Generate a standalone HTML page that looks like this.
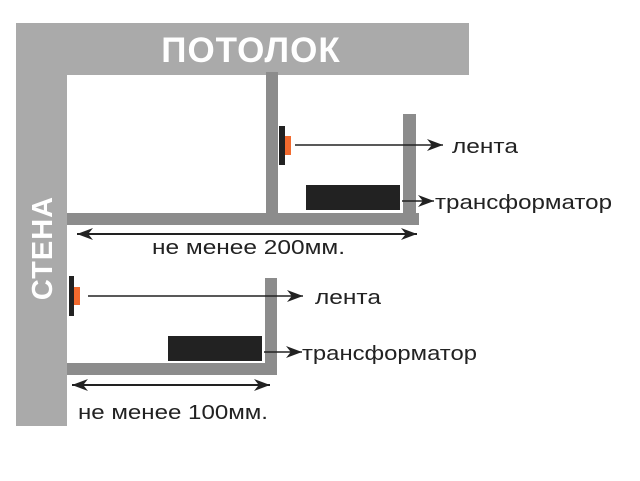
<!DOCTYPE html>
<html><head><meta charset="utf-8"><style>
body{margin:0;background:#fff;}
</style></head><body>
<svg width="640" height="476" viewBox="0 0 640 476" xmlns="http://www.w3.org/2000/svg" font-family="Liberation Sans, sans-serif">
<defs>
<marker id="a" viewBox="0 0 10 10" refX="10" refY="5" markerWidth="16" markerHeight="12" markerUnits="userSpaceOnUse" orient="auto-start-reverse" preserveAspectRatio="none">
<path d="M0,0 L10,5 L0,10 L3,5 z" fill="#222"/>
</marker>
</defs>
<rect x="16" y="23" width="453" height="52" fill="#aaaaaa"/>
<rect x="16" y="23" width="51" height="403" fill="#aaaaaa"/>
<text x="251" y="62" font-size="35" font-weight="bold" fill="#fff" text-anchor="middle" letter-spacing="1">ПОТОЛОК</text>
<text transform="translate(52,248) rotate(-90)" font-size="29" font-weight="bold" fill="#fff" text-anchor="middle" letter-spacing="1">СТЕНА</text>
<rect x="266" y="72" width="12" height="143" fill="#8c8c8c"/>
<rect x="67" y="213" width="352" height="12" fill="#8c8c8c"/>
<rect x="403" y="114" width="13" height="111" fill="#8c8c8c"/>
<rect x="279" y="126" width="6" height="39" fill="#222"/>
<rect x="285" y="136" width="6" height="19" fill="#f26a2e"/>
<line x1="295" y1="145" x2="443" y2="145" stroke="#222" stroke-width="1.5" marker-end="url(#a)"/>
<text x="452" y="153" font-size="20" fill="#222" textLength="66" lengthAdjust="spacingAndGlyphs">лента</text>
<rect x="306" y="185" width="94" height="25" fill="#222"/>
<line x1="402" y1="201" x2="434" y2="201" stroke="#222" stroke-width="1.5" marker-end="url(#a)"/>
<text x="435" y="209" font-size="20" fill="#222" textLength="177" lengthAdjust="spacingAndGlyphs">трансформатор</text>
<line x1="77" y1="234" x2="417" y2="234" stroke="#222" stroke-width="2" marker-start="url(#a)" marker-end="url(#a)"/>
<text x="152" y="254" font-size="20" fill="#222" textLength="193" lengthAdjust="spacingAndGlyphs">не менее 200мм.</text>
<rect x="265" y="278" width="12" height="97" fill="#8c8c8c"/>
<rect x="67" y="363" width="210" height="12" fill="#8c8c8c"/>
<rect x="69" y="276" width="5" height="40" fill="#222"/>
<rect x="74" y="287" width="6" height="18" fill="#f26a2e"/>
<line x1="88" y1="296" x2="303" y2="296" stroke="#222" stroke-width="1.5" marker-end="url(#a)"/>
<text x="315" y="304" font-size="20" fill="#222" textLength="66" lengthAdjust="spacingAndGlyphs">лента</text>
<rect x="168" y="336" width="94" height="25" fill="#222"/>
<line x1="264" y1="352" x2="302" y2="352" stroke="#222" stroke-width="1.5" marker-end="url(#a)"/>
<text x="302" y="360" font-size="20" fill="#222" textLength="175" lengthAdjust="spacingAndGlyphs">трансформатор</text>
<line x1="72" y1="385" x2="270" y2="385" stroke="#222" stroke-width="2" marker-start="url(#a)" marker-end="url(#a)"/>
<text x="78" y="419" font-size="20" fill="#222" textLength="190" lengthAdjust="spacingAndGlyphs">не менее 100мм.</text>
</svg>
</body></html>
